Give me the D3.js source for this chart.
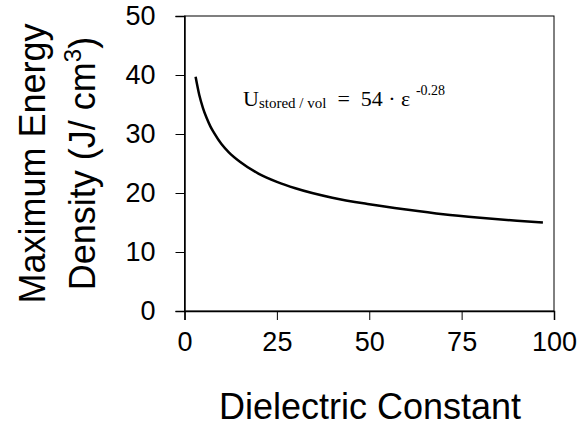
<!DOCTYPE html>
<html>
<head>
<meta charset="utf-8">
<script src="https://cdn.jsdelivr.net/npm/d3@7"></script>
<style>
  body { margin: 0; background: #fff; }
  svg { display: block; }
</style>
</head>
<body>
<div id="chart"></div>
<script>
// values
const epsilon = [3, 4, 5, 6, 7, 8, 10, 12, 15, 20, 25, 30, 40, 50, 60, 70, 80, 90, 97];
const density = [39.7, 36.6, 34.4, 32.7, 31.3, 30.2, 28.3, 26.9, 25.3, 23.3, 21.9, 20.8, 19.2, 18.1, 17.2, 16.4, 15.8, 15.3, 15.0];
const xTicks = [0, 25, 50, 75, 100];
const yTicks = [0, 10, 20, 30, 40, 50];

const width = 581, height = 427;
const sans = "'Liberation Sans', Arial, sans-serif";
const serif = "'Liberation Serif', 'Times New Roman', serif";

const svg = d3.select("#chart").append("svg")
  .attr("width", width)
  .attr("height", height);

const x = d3.scaleLinear().domain([0, 100]).range([184.5, 554]);
const y = d3.scaleLinear().domain([0, 50]).range([311, 16]);

// frame
svg.append("rect")
  .attr("x", x(0)).attr("y", y(50))
  .attr("width", x(100) - x(0)).attr("height", y(0) - y(50))
  .attr("fill", "none").attr("stroke", "#000").attr("stroke-width", 1);

const xAxis = svg.append("g")
  .attr("transform", `translate(0,${y(0)})`)
  .call(d3.axisBottom(x).tickValues(xTicks).tickSize(9).tickPadding(12).tickFormat(d3.format("d")));
xAxis.select(".domain").attr("stroke-width", 1.5);
xAxis.selectAll("text").attr("font-family", sans).attr("font-size", 27).attr("fill", "#000");

const yAxis = svg.append("g")
  .attr("transform", `translate(${x(0)},0)`)
  .call(d3.axisLeft(y).tickValues(yTicks).tickSize(9).tickPadding(20).tickFormat(d3.format("d")));
yAxis.select(".domain").attr("stroke-width", 1.5);
yAxis.selectAll("text").attr("font-family", sans).attr("font-size", 27).attr("fill", "#000");

// curve
const pts = epsilon.map((e, i) => [e, density[i]]);
svg.append("path")
  .datum(pts)
  .attr("fill", "none")
  .attr("stroke", "#000")
  .attr("stroke-width", 2.5)
  .attr("stroke-linejoin", "round")
  .attr("d", d3.line().x(d => x(d[0])).y(d => y(d[1])).curve(d3.curveMonotoneX));

// x title
svg.append("text")
  .attr("x", 370).attr("y", 419)
  .attr("text-anchor", "middle")
  .attr("font-family", sans).attr("font-size", 36)
  .text("Dielectric Constant");

// y title, two lines
const yc = (y(0) + y(50)) / 2;
svg.append("text")
  .attr("transform", `translate(45,${yc}) rotate(-90)`)
  .attr("text-anchor", "middle")
  .attr("font-family", sans).attr("font-size", 36)
  .text("Maximum Energy");
const yt2 = svg.append("text")
  .attr("transform", `translate(95,${yc}) rotate(-90)`)
  .attr("text-anchor", "middle")
  .attr("font-family", sans).attr("font-size", 36);
yt2.append("tspan").text("Density (J/ cm");
yt2.append("tspan").attr("dy", -14).attr("font-size", 24).text("3");
yt2.append("tspan").attr("dy", 14).text(")");

// equation
const eq = svg.append("text")
  .attr("x", 243).attr("y", 106)
  .attr("font-family", serif).attr("font-size", 22)
  .attr("xml:space", "preserve");
eq.append("tspan").text("U");
eq.append("tspan").attr("font-size", 15).attr("dy", 2).text("stored / vol");
eq.append("tspan").attr("dy", -2).text("  =  54 \u00b7 \u03b5 ");
eq.append("tspan").attr("font-size", 14).attr("dy", -11).text("-0.28");
</script>
</body>
</html>
